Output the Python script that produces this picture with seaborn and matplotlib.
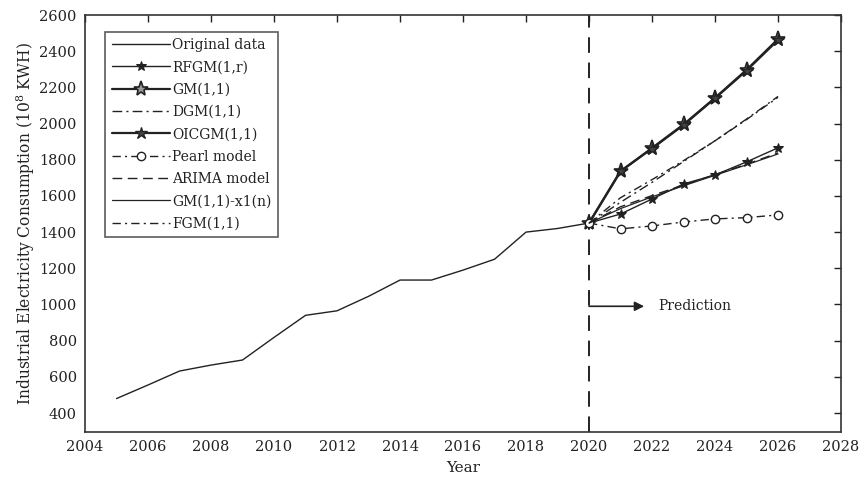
import matplotlib
matplotlib.use("Agg")
import matplotlib.pyplot as plt
import seaborn as sns
import pandas as pd

sns.set_theme(style="white")
plt.rcParams["font.family"] = ["DejaVu Serif"]
plt.rcParams["mathtext.fontset"] = "dejavuserif"

# Historical consumption (10^8 kWh)
years_hist = list(range(2005, 2021))
original = [480, 555, 632, 665, 693, 818, 940, 965, 1045, 1135, 1135, 1190, 1250, 1400, 1420, 1450]

# Forecast horizon, starting from the last observed year
years_fc = list(range(2020, 2027))
rfgm = [1450, 1500, 1583, 1666, 1716, 1788, 1866]
gm11 = [1450, 1735, 1865, 1995, 2142, 2297, 2467]
dgm = [1450, 1565, 1675, 1790, 1905, 2025, 2150]
oicgm = [1450, 1738, 1862, 1992, 2140, 2293, 2462]
pearl = [1450, 1418, 1434, 1456, 1473, 1480, 1495]
arima = [1450, 1540, 1602, 1660, 1718, 1775, 1838]
gm_x1n = [1450, 1530, 1595, 1656, 1714, 1772, 1832]
fgm = [1450, 1590, 1690, 1795, 1905, 2022, 2145]

ink = "#222222"
fig = plt.figure(figsize=(8.65, 4.84), dpi=100)
ax = fig.add_axes([0.0983, 0.1074, 0.8740, 0.8616])

def draw(x, y, label, **kw):
    df = pd.DataFrame({"Year": x, "Value": y})
    sns.lineplot(data=df, x="Year", y="Value", ax=ax, label=label,
                 color=ink, **kw)

draw(years_hist, original, "Original data", lw=1.0)
draw(years_fc, rfgm, "RFGM(1,r)", lw=1.0, marker="*", markersize=7,
     markerfacecolor=ink, markeredgecolor=ink)
draw(years_fc, gm11, "GM(1,1)", lw=1.6, marker="*", markersize=11,
     markerfacecolor="#9a9a9a", markeredgecolor=ink, markeredgewidth=1.2)
draw(years_fc, dgm, "DGM(1,1)", lw=1.0, linestyle=(0, (7, 3, 1.5, 3)))
draw(years_fc, oicgm, "OICGM(1,1)", lw=1.6, marker="*", markersize=9,
     markerfacecolor="#444444", markeredgecolor=ink, markeredgewidth=1.0)
draw(years_fc, pearl, "Pearl model", lw=1.0, linestyle=(0, (6, 3, 1.5, 3)),
     marker="o", markersize=6, markerfacecolor="white", markeredgecolor=ink,
     markeredgewidth=1.0)
draw(years_fc, arima, "ARIMA model", lw=1.0, linestyle=(0, (7, 4)))
draw(years_fc, gm_x1n, "GM(1,1)-x1(n)", lw=0.9)
draw(years_fc, fgm, "FGM(1,1)", lw=1.0, linestyle=(0, (6, 3, 1.5, 3)))

# Boundary between observed data and forecasts
ax.axvline(2020, color=ink, lw=1.4, linestyle=(0, (8, 5)), zorder=1)
ax.annotate("", xy=(2021.75, 990), xytext=(2020, 990),
            arrowprops=dict(arrowstyle="-|>", color=ink, lw=1.2,
                            mutation_scale=14, shrinkA=0, shrinkB=0))
ax.text(2022.2, 990, "Prediction", fontsize=10, color=ink, va="center",
        ha="left")

ax.set_xlim(2004, 2028)
ax.set_ylim(295, 2600)
ax.set_xticks(list(range(2004, 2029, 2)))
ax.set_yticks(list(range(400, 2601, 200)))
ax.tick_params(direction="in", length=5, width=1, top=True, right=True,
               labelsize=10.5, colors=ink, pad=6)
for s in ax.spines.values():
    s.set_color("#333333")
    s.set_linewidth(1.2)
ax.set_xlabel("Year", fontsize=11, color=ink, labelpad=5)
ax.set_ylabel("Industrial Electricity Consumption (10$^{8}$ KWH)",
              fontsize=11.2, color=ink, labelpad=2)

leg = ax.legend(loc="upper left", bbox_to_anchor=(0.027, 0.96),
                fontsize=10, frameon=True, fancybox=False,
                handlelength=4.2, handletextpad=0.15, labelspacing=0.6,
                borderpad=0.45, borderaxespad=0)
leg.get_frame().set_edgecolor("#333333")
leg.get_frame().set_linewidth(1.2)
for t in leg.get_texts():
    t.set_color(ink)

fig.savefig("out.png", dpi=100)
